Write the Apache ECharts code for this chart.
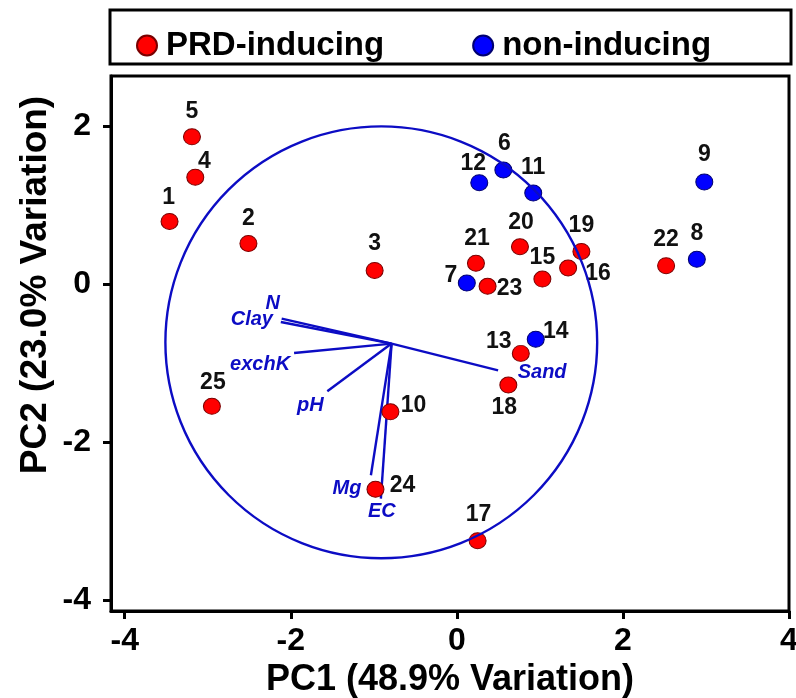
<!DOCTYPE html>
<html>
<head>
<meta charset="utf-8">
<script src="https://cdn.jsdelivr.net/npm/echarts@6/dist/echarts.min.js"></script>
<style>
  html, body { margin: 0; padding: 0; background: #fff; }
  #main { width: 796px; height: 698px; }
</style>
</head>
<body>
<div id="main"></div>
<script>
// sample scores
var sampleIds = ["1","2","3","4","5","6","7","8","9","10","11","12","13","14","15","16","17","18","19","20","21","22","23","24","25"];
var pc1 = [-3.46,-2.51,-0.99,-3.15,-3.19,0.56,0.12,2.89,2.98,-0.80,0.92,0.27,0.77,0.95,1.03,1.34,0.25,0.62,1.50,0.76,0.23,2.52,0.37,-0.98,-2.95];
var pc2 = [0.79,0.51,0.17,1.35,1.86,1.44,0.01,0.31,1.29,-1.62,1.15,1.28,-0.88,-0.70,0.06,0.20,-3.25,-1.28,0.41,0.47,0.26,0.23,-0.03,-2.60,-1.55];
var group = ["P","P","P","P","P","N","N","N","N","P","N","N","P","N","P","P","P","P","P","P","P","P","P","P","P"];

// loading vectors (start point and tips)
var vecOrigin = [-0.786, -0.756];
var vecNames = ["N","Clay","exchK","pH","Mg","EC","Sand"];
var vecX = [-2.11,-2.12,-1.96,-1.56,-1.035,-0.915,0.497];
var vecY = [-0.44,-0.483,-0.875,-1.36,-2.422,-2.717,-1.094];

// correlation circle: centre x, centre y, radius (x units)
var circle = [-0.91, -0.74, 2.6];

var xTicks = [-4,-2,0,2,4];
var yTicks = [-4,-2,0,2];

// label offsets (px, from the marker centre)
var labelOffset = {
  "1":[-1,-24],"2":[0,-25],"3":[0,-27],"4":[9,-15],"5":[0,-25],"6":[1,-26],"7":[-16,-7],
  "8":[0,-26],"9":[0,-27],"10":[23,-6],"11":[0,-25],"12":[-6,-19],"13":[-22,-12],"14":[20,-7],
  "15":[0,-21],"16":[30,6],"17":[1,-26],"18":[-4,23],"19":[0,-26],"20":[1,-24],"21":[1,-25],
  "22":[0,-26],"23":[22,2],"24":[27,-4],"25":[1,-24]
};
var vecLabelOffset = {
  "N":[-9,-15],"Clay":[-29,-3],"exchK":[-34,12],"pH":[-17,14],"Mg":[-24,13],"EC":[1,13],"Sand":[44,2]
};

var blue = "#0c0cc4";

function pointsFor(g) {
  var out = [];
  for (var i = 0; i < sampleIds.length; i++) {
    if (group[i] !== g) continue;
    out.push({
      value: [pc1[i], pc2[i]],
      name: sampleIds[i],
      label: { offset: labelOffset[sampleIds[i]] }
    });
  }
  return out;
}

var vecData = [];
for (var k = 0; k < vecNames.length; k++) {
  vecData.push([vecOrigin[0], vecOrigin[1], vecX[k], vecY[k], k]);
}

var labelStyle = {
  show: true,
  position: "inside",
  formatter: "{b}",
  color: "#111",
  fontSize: 23,
  fontWeight: "bold",
  fontFamily: "Liberation Sans, Arial, sans-serif"
};

var chart = echarts.init(document.getElementById("main"));
var option = {
  animation: false,
  backgroundColor: "#fff",
  textStyle: { fontFamily: "Liberation Sans, Arial, sans-serif" },
  grid: {
    left: 111, right: 7, top: 76, bottom: 87,
    outerBoundsMode: "none",
    containLabel: false,
    show: true, borderColor: "#000", borderWidth: 3
  },
  legend: {
    left: 131, top: 24,
    itemWidth: 20, itemHeight: 20,
    itemGap: 88,
    icon: "circle",
    textStyle: { fontSize: 33, fontWeight: "bold", color: "#000", padding: [0, 0, 0, 4] },
    data: ["PRD-inducing", "non-inducing"]
  },
  graphic: [
    {
      type: "rect",
      shape: { x: 110, y: 10, width: 681, height: 54 },
      style: { fill: "none", stroke: "#000", lineWidth: 3 }
    },
    {
      type: "text",
      x: 36, y: 285,
      rotation: Math.PI / 2,
      style: {
        text: "PC2 (23.0% Variation)",
        font: "bold 37px Liberation Sans, Arial, sans-serif",
        fill: "#000",
        align: "center",
        verticalAlign: "middle"
      }
    }
  ],
  xAxis: {
    type: "value",
    min: -4.165, max: 4,
    name: "PC1 (48.9% Variation)",
    nameLocation: "middle",
    nameGap: 42,
    nameTextStyle: { fontSize: 36, fontWeight: "bold", color: "#000" },
    axisLine: { show: true, onZero: false, lineStyle: { color: "#000", width: 3 } },
    axisTick: { show: true, inside: false, length: 8, lineStyle: { width: 3, color: "#000" }, customValues: xTicks },
    axisLabel: { fontSize: 32, fontWeight: "bold", color: "#000", margin: 14, customValues: xTicks },
    splitLine: { show: false }
  },
  yAxis: {
    type: "value",
    min: -4.14, max: 2.63,
    axisLine: { show: true, onZero: false, lineStyle: { color: "#000", width: 3 } },
    axisTick: { show: true, inside: false, length: 8, lineStyle: { width: 3, color: "#000" }, customValues: yTicks },
    axisLabel: { fontSize: 32, fontWeight: "bold", color: "#000", margin: 20, customValues: yTicks },
    splitLine: { show: false }
  },
  series: [
    {
      name: "vectors",
      type: "custom",
      z: 2,
      data: vecData,
      renderItem: function (params, api) {
        var a = api.coord([api.value(0), api.value(1)]);
        var b = api.coord([api.value(2), api.value(3)]);
        var nm = vecNames[api.value(4)];
        var off = vecLabelOffset[nm];
        return {
          type: "group",
          children: [
            {
              type: "line",
              shape: { x1: a[0], y1: a[1], x2: b[0], y2: b[1] },
              style: { stroke: blue, lineWidth: 2.4 }
            },
            {
              type: "text",
              x: b[0] + off[0], y: b[1] + off[1],
              style: {
                text: nm,
                font: "italic bold 20px Liberation Sans, Arial, sans-serif",
                fill: blue,
                align: "center",
                verticalAlign: "middle"
              }
            }
          ]
        };
      }
    },
    {
      name: "PRD-inducing",
      type: "scatter",
      z: 3,
      symbolSize: [17, 16],
      itemStyle: { color: "#ff0000", borderColor: "#7a0000", borderWidth: 1, opacity: 1 },
      label: labelStyle,
      data: pointsFor("P")
    },
    {
      name: "non-inducing",
      type: "scatter",
      z: 3,
      symbolSize: [17, 16],
      itemStyle: { color: "#0000ff", borderColor: "#000070", borderWidth: 1, opacity: 1 },
      label: labelStyle,
      data: pointsFor("N")
    },
    {
      name: "circle",
      type: "custom",
      z: 4,
      silent: true,
      data: [circle],
      renderItem: function (params, api) {
        var c = api.coord([api.value(0), api.value(1)]);
        var r = api.size([api.value(2), 0])[0];
        return {
          type: "circle",
          shape: { cx: c[0], cy: c[1], r: r },
          style: { fill: "none", stroke: blue, lineWidth: 2.4 }
        };
      }
    }
  ]
};
chart.setOption(option);
</script>
</body>
</html>
